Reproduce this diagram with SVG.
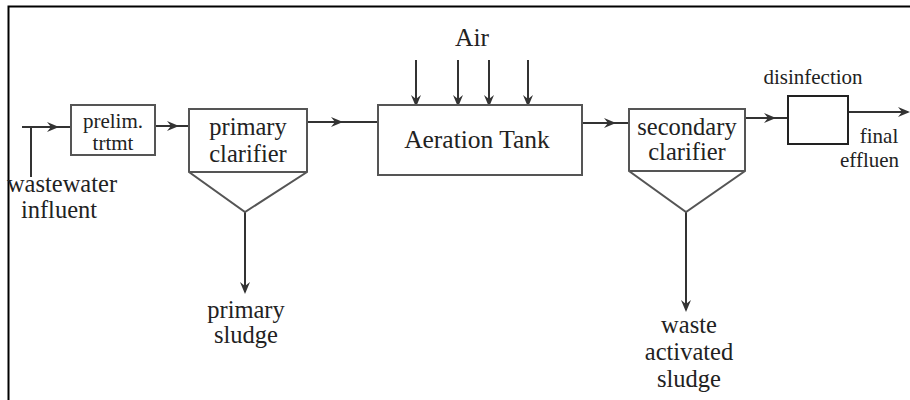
<svg xmlns="http://www.w3.org/2000/svg" width="910" height="400" viewBox="0 0 910 400">
<defs>
<marker id="ah" viewBox="0 0 12 10" refX="10" refY="5" markerWidth="12" markerHeight="10" markerUnits="userSpaceOnUse" orient="auto">
<path d="M0,0 L12,5 L0,10 L4,5 Z" fill="#333"/>
</marker>
<style>
.box{fill:#fff;stroke:#555;stroke-width:2}
.ln{fill:none;stroke:#333;stroke-width:2}
.t{fill:#222;font-size:24.5px;text-anchor:middle}
.s{font-size:21px}
</style>
</defs>
<rect x="0" y="0" width="910" height="400" fill="#fff"/>
<path d="M8.5,400 V6.5 H910" fill="none" stroke="#000" stroke-width="2"/>
<g id="connectors">
<path class="ln" d="M22,127 L57,127" marker-end="url(#ah)"/>
<path class="ln" d="M57,127 L71,127"/>
<path class="ln" d="M31,127 V177"/>
<path class="ln" d="M155,126 L177,126" marker-end="url(#ah)"/>
<path class="ln" d="M177,126 L190,126"/>
<path class="ln" d="M307,122 L341,122" marker-end="url(#ah)"/>
<path class="ln" d="M341,122 L378,122"/>
<path class="ln" d="M245,212 V292" marker-end="url(#ah)"/>
<path class="ln" d="M416,60 V105" marker-end="url(#ah)"/>
<path class="ln" d="M458,60 V105" marker-end="url(#ah)"/>
<path class="ln" d="M489,60 V105" marker-end="url(#ah)"/>
<path class="ln" d="M528,60 V105" marker-end="url(#ah)"/>
<path class="ln" d="M582,123 L614,123" marker-end="url(#ah)"/>
<path class="ln" d="M614,123 L629,123"/>
<path class="ln" d="M686,212 V310" marker-end="url(#ah)"/>
<path class="ln" d="M745,118 L774,118" marker-end="url(#ah)"/>
<path class="ln" d="M774,118 L788,118"/>
<path class="ln" d="M848,112 L908,112" marker-end="url(#ah)"/>
</g>
<g font-family="Liberation Serif, Times New Roman, DejaVu Serif, serif">
<g id="influent">
<text class="t" x="62" y="192">wastewater</text>
<text class="t" x="59" y="218">influent</text>
</g>
<g id="prelim">
<rect class="box" x="71" y="105" width="84" height="50"/>
<text class="t s" x="113" y="128">prelim.</text>
<text class="t s" x="113" y="150">trtmt</text>
</g>
<g id="primary-clarifier">
<path class="box" d="M189,109 H307 V172 L245,212 L189,172 Z"/>
<line x1="189" y1="172" x2="307" y2="172" stroke="#555" stroke-width="2"/>
<text class="t" x="248" y="135">primary</text>
<text class="t" x="248" y="162">clarifier</text>
</g>
<g id="primary-sludge">
<text class="t" x="246" y="318">primary</text>
<text class="t" x="246" y="343">sludge</text>
</g>
<g id="air">
<text class="t" x="472" y="46" style="font-size:25.5px">Air</text>
</g>
<g id="aeration-tank">
<rect class="box" x="378" y="105" width="204" height="70"/>
<text class="t" x="477" y="148" style="font-size:25.5px">Aeration Tank</text>
</g>
<g id="secondary-clarifier">
<path class="box" d="M629,109 H745 V171 L686,212 L629,171 Z"/>
<line x1="629" y1="171" x2="745" y2="171" stroke="#555" stroke-width="2"/>
<text class="t" x="687" y="135">secondary</text>
<text class="t" x="687" y="160">clarifier</text>
</g>
<g id="waste-activated-sludge">
<text class="t" x="689" y="333">waste</text>
<text class="t" x="689" y="360">activated</text>
<text class="t" x="689" y="387">sludge</text>
</g>
<g id="disinfection">
<rect x="788" y="96" width="60" height="48" fill="#fff" stroke="#222" stroke-width="2"/>
<text class="t s" x="813" y="84">disinfection</text>
</g>
<g id="final-effluent">
<text class="t s" x="879" y="143">final</text>
<text class="t s" x="840" y="167" style="text-anchor:start">effluen</text>
</g>
</g>
</svg>
